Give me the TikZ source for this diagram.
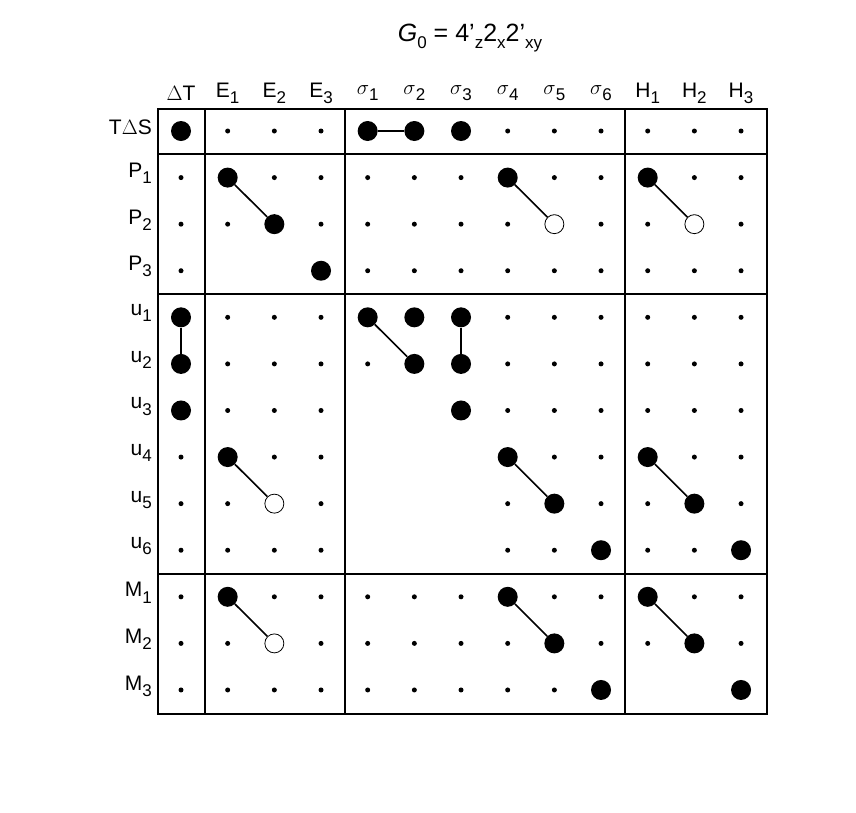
\documentclass[tikz,border=0pt]{standalone}
\usepackage{fontspec}
\setmainfont{Liberation Sans}
\newcommand{\lo}[1]{\raisebox{-0.55ex}{\fontsize{17}{17}\selectfont #1}}
\begin{document}
\begin{tikzpicture}[x=1pt,y=1pt,
      every node/.append style={font=\fontsize{21}{21}\selectfont},
      ptb/.style={circle,fill=black,inner sep=0pt,minimum size=20pt},
      pto/.style={circle,draw=black,fill=white,line width=0.8pt,inner sep=0pt,minimum size=19pt},
      pts/.style={circle,fill=black,inner sep=0pt,minimum size=5pt},
      ptn/.style={inner sep=0pt,minimum size=0pt},
      link/.style={line width=1.6pt},
      frame/.style={line width=2.4pt}]
    \useasboundingbox (0,0) rectangle (856,-812);
    \node (title) at (470,-38) {\fontsize{25}{25}\selectfont\textit{G}\lo{0} = 4'\lo{z}2\lo{x}2'\lo{xy}};
    % column heads
    \foreach \h [count=\c] in {$\Delta$T,E\lo{1},E\lo{2},E\lo{3},$\sigma$\lo{1},$\sigma$\lo{2},$\sigma$\lo{3},$\sigma$\lo{4},$\sigma$\lo{5},$\sigma$\lo{6},H\lo{1},H\lo{2},H\lo{3}}
      \node (head\c) at ({181+(\c-1)*46.67},-93) {\h};
    % row heads
    \foreach \h [count=\r] in {T$\Delta$S,P\lo{1},P\lo{2},P\lo{3},u\lo{1},u\lo{2},u\lo{3},u\lo{4},u\lo{5},u\lo{6},M\lo{1},M\lo{2},M\lo{3}}
      \node[anchor=east,inner sep=0pt] (lab\r) at (152,{-127-(\r-1)*46.58}) {\h};
    % dots
    \foreach \r/\pat in {1/{b,s,s,s,b,b,b,s,s,s,s,s,s},
                         2/{s,b,s,s,s,s,s,b,s,s,b,s,s},
                         3/{s,s,b,s,s,s,s,s,o,s,s,o,s},
                         4/{s,n,n,b,s,s,s,s,s,s,s,s,s},
                         5/{b,s,s,s,b,b,b,s,s,s,s,s,s},
                         6/{b,s,s,s,s,b,b,s,s,s,s,s,s},
                         7/{b,s,s,s,n,n,b,s,s,s,s,s,s},
                         8/{s,b,s,s,n,n,n,b,s,s,b,s,s},
                         9/{s,s,o,s,n,n,n,s,b,s,s,b,s},
                         10/{s,s,s,s,n,n,n,s,s,b,s,s,b},
                         11/{s,b,s,s,s,s,s,b,s,s,b,s,s},
                         12/{s,s,o,s,s,s,s,s,b,s,s,b,s},
                         13/{s,s,s,s,s,s,s,s,s,b,n,n,b}}
      \foreach \t [count=\c] in \pat
        \node[pt\t] (n\r-\c) at ({181+(\c-1)*46.67},{-131-(\r-1)*46.58}) {};
    % links
    \foreach \a/\b in {1-5/1-6, 2-2/3-3, 2-8/3-9, 2-11/3-12, 5-1/6-1, 5-5/6-6, 5-7/6-7,
                       8-2/9-3, 8-8/9-9, 8-11/9-12, 11-2/12-3, 11-8/12-9, 11-11/12-12}
      \draw[link] (n\a) -- (n\b);
    % frame
    \draw[frame] (158,-109) rectangle (767,-714);
    \draw[frame] (205,-109) -- (205,-714) (345,-109) -- (345,-714) (625,-109) -- (625,-714);
    \draw[frame] (158,-154) -- (767,-154) (158,-294) -- (767,-294) (158,-574) -- (767,-574);
\end{tikzpicture}
\end{document}
